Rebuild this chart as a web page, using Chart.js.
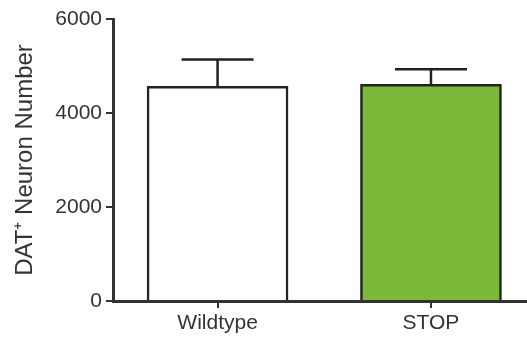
<!DOCTYPE html>
<html><head><meta charset="utf-8">
<script src="https://cdn.jsdelivr.net/npm/chart.js@4.4.0/dist/chart.umd.min.js"></script>
<style>html,body{margin:0;padding:0;background:#fff}#wrap{width:527px;height:338px}</style>
</head><body><div id="wrap"><canvas id="c"></canvas></div>
<script>
const categories = ['Wildtype', 'STOP'];
const means = [4570, 4610];
const errors = [570, 320];
const yTicks = [0, 2000, 4000, 6000];
const barColors = ['#ffffff', '#7cb83a'];

const errorBars = {
  id: 'errorBars',
  afterDatasetsDraw(chart) {
    const ctx = chart.ctx, xs = chart.scales.x, ys = chart.scales.y;
    ctx.save();
    ctx.strokeStyle = '#222';
    ctx.lineWidth = 2.5;
    means.forEach((m, i) => {
      const x = xs.getPixelForValue(i);
      const y0 = ys.getPixelForValue(m);
      const y1 = ys.getPixelForValue(m + errors[i]);
      ctx.beginPath();
      ctx.moveTo(x, y0); ctx.lineTo(x, y1);
      ctx.moveTo(x - 36, y1); ctx.lineTo(x + 36, y1);
      ctx.stroke();
    });
    ctx.restore();
  }
};

new Chart(document.getElementById('c'), {
  type: 'bar',
  data: {
    datasets: [{
      data: means.map((v, i) => ({x: i, y: v})),
      backgroundColor: barColors,
      borderColor: '#222',
      borderWidth: 2.5,
      barThickness: 141,
      borderSkipped: 'bottom'
    }]
  },
  options: {
    responsive: true, maintainAspectRatio: false, animation: false,
    layout: {padding: {top: 19, right: 0, left: 10, bottom: 0}},
    plugins: {legend: {display: false}, tooltip: {enabled: false}},
    scales: {
      x: {
        type: 'linear', min: -0.49, max: 1.45, offset: false,
        afterBuildTicks(s) { s.ticks = categories.map((c, i) => ({value: i})); },
        afterFit(s) { s.height = 37; },
        ticks: {callback: (v) => categories[v], color: '#333', font: {family: 'Liberation Sans', size: 21}, padding: 3, maxRotation: 0, autoSkip: false},
        grid: {display: true, offset: false, drawOnChartArea: false, drawTicks: true, tickLength: 7, color: '#333', lineWidth: 2},
        border: {display: true, color: '#333', width: 3}
      },
      y: {
        min: 0, max: 6000,
        afterBuildTicks(s) { s.ticks = yTicks.map(v => ({value: v})); },
        afterFit(s) { s.width = 103; },
        ticks: {callback: (v) => String(v), color: '#333', font: {family: 'Liberation Sans', size: 21}, padding: 4},
        grid: {display: true, drawOnChartArea: false, drawTicks: true, tickLength: 7, color: '#333', lineWidth: 2},
        border: {display: true, color: '#333', width: 3},
        title: {display: true, text: 'DAT⁺ Neuron Number', color: '#333', font: {family: 'Liberation Sans', size: 24}, padding: {top: 1, bottom: 0}}
      }
    }
  },
  plugins: [errorBars]
});
</script></body></html>
